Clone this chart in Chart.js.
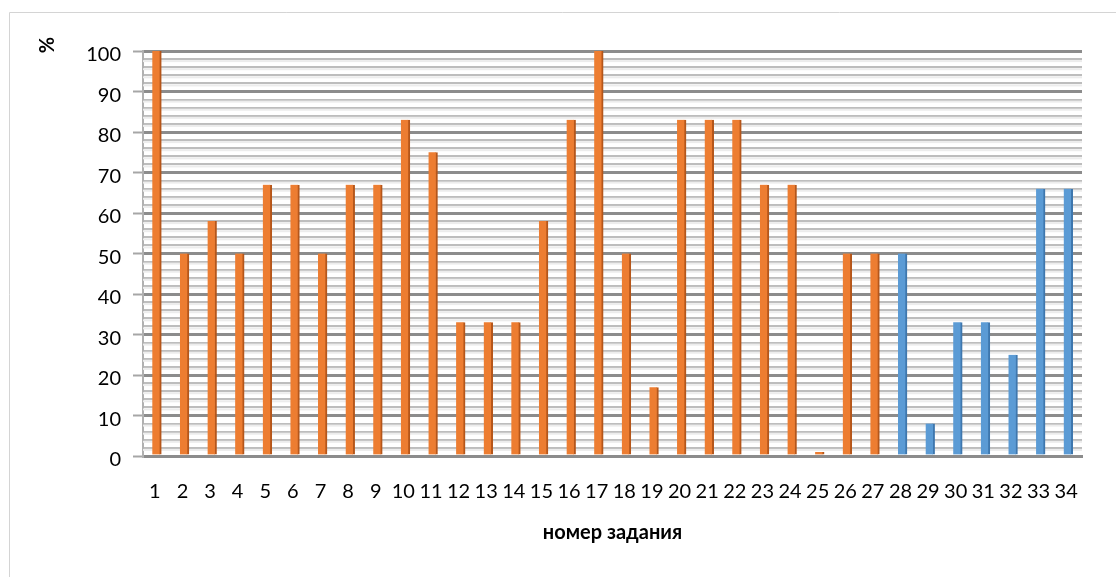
<!DOCTYPE html>
<html>
<head>
<meta charset="utf-8">
<script src="https://cdn.jsdelivr.net/npm/chart.js@4"></script>
<style>
html,body{margin:0;padding:0;background:#fff;}
#wrap{width:1116px;height:577px;position:relative;}
</style>
</head>
<body>
<div id="wrap"><canvas id="c" width="1116" height="577"></canvas></div>
<script>
const categories = ['1','2','3','4','5','6','7','8','9','10','11','12','13','14','15','16','17','18','19','20','21','22','23','24','25','26','27','28','29','30','31','32','33','34'];
const orangeValues = [100,50,58,50,67,67,50,67,67,83,75,33,33,33,58,83,100,50,17,83,83,83,67,67,0,50,50,null,null,null,null,null,null,null];
const blueValues   = [null,null,null,null,null,null,null,null,null,null,null,null,null,null,null,null,null,null,null,null,null,null,null,null,null,null,null,50,8,33,33,25,66,66];
const yTitle = '%';
const xTitle = 'номер задания';

const FONT = 'Lato, "Open Sans", sans-serif';

const framePlugin = {
  id: 'frame',
  beforeDraw(chart) {
    const ctx = chart.ctx;
    ctx.save();
    ctx.fillStyle = '#fff';
    ctx.fillRect(0, 0, chart.width, chart.height);
    ctx.strokeStyle = '#d4d4d4';
    ctx.lineWidth = 1;
    ctx.beginPath();
    ctx.moveTo(9.5, chart.height);
    ctx.lineTo(9.5, 12.5);
    ctx.lineTo(chart.width, 12.5);
    ctx.stroke();
    ctx.restore();
  },
  beforeDatasetsDraw(chart) {
    const y = chart.scales.y, a = chart.chartArea, ctx = chart.ctx;
    ctx.save();
    ctx.fillStyle = '#ececec';
    y.ticks.forEach(t => {
      if (t.value % 10 !== 0) {
        const p = y.getPixelForValue(t.value);
        ctx.fillRect(a.left, p + 1, a.right - a.left, 2);
      }
    });
    ctx.restore();
  },
  afterDraw(chart) {
    const ctx = chart.ctx;
    ctx.save();
    ctx.translate(48, 45);
    ctx.rotate(-Math.PI / 2);
    ctx.fillStyle = '#000';
    ctx.font = 'bold 20px ' + FONT;
    ctx.textAlign = 'center';
    ctx.textBaseline = 'middle';
    ctx.fillText(yTitle, 0, 0);
    ctx.restore();
  }
};

new Chart(document.getElementById('c'), {
  type: 'bar',
  data: {
    labels: categories,
    datasets: [
      {
        label: 'orange',
        data: orangeValues,
        backgroundColor: '#ED7D31',
        borderColor: '#B5561A',
        borderWidth: {left: 0, top: 0, right: 2, bottom: 0},
        borderSkipped: false,
        barThickness: 9,
        minBarLength: 4,
        grouped: false
      },
      {
        label: 'blue',
        data: blueValues,
        backgroundColor: '#5B9BD5',
        borderColor: '#3E77AE',
        borderWidth: {left: 0, top: 0, right: 2, bottom: 0},
        borderSkipped: false,
        barThickness: 9,
        grouped: false
      }
    ]
  },
  options: {
    responsive: false,
    animation: false,
    layout: {padding: {top: 51, right: 34, left: 0, bottom: 0}},
    plugins: {legend: {display: false}, tooltip: {enabled: false}},
    scales: {
      x: {
        grid: {display: false, drawTicks: false},
        border: {display: true, color: '#8c8c8c', width: 3},
        ticks: {color: '#000', font: {family: FONT, size: 20}, padding: 24, autoSkip: false, maxRotation: 0, labelOffset: -2},
        title: {display: true, text: xTitle, color: '#000', font: {family: FONT, size: 20, weight: 'bold'}, padding: {top: 0, bottom: 32}},
        afterFit(s) { s.height = 121; }
      },
      y: {
        min: 0, max: 100,
        ticks: {
          stepSize: 2, autoSkip: false, color: '#000',
          font: {family: FONT, size: 20}, padding: 12, labelOffset: 4,
          callback: v => (v % 10 === 0 ? String(v) : '')
        },
        grid: {
          color: c => (c.tick && c.tick.value % 10 === 0 ? '#8c8c8c' : '#bdbdbd'),
          lineWidth: c => (c.tick && c.tick.value % 10 === 0 ? 3 : 2),
          tickColor: c => (c.tick && c.tick.value % 10 === 0 ? '#a6a6a6' : 'rgba(0,0,0,0)'),
          tickLength: 10,
          tickWidth: 2
        },
        border: {display: true, color: '#b0b0b0', width: 2},
        afterFit(s) { s.width = 143; }
      }
    }
  },
  plugins: [framePlugin]
});
</script>
</body>
</html>
